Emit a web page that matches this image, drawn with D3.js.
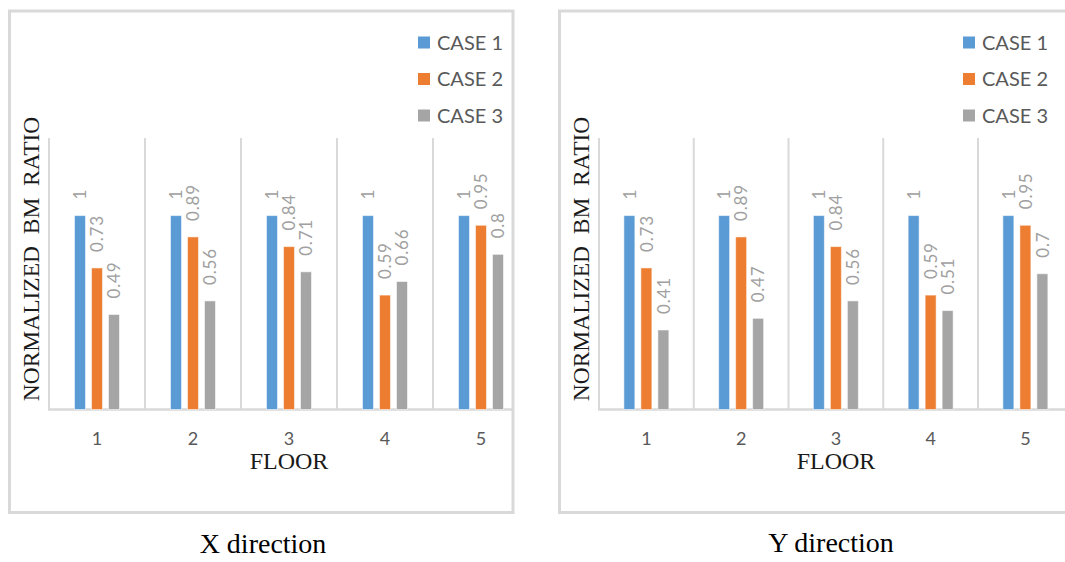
<!DOCTYPE html>
<html>
<head>
<meta charset="utf-8">
<script src="https://cdn.jsdelivr.net/npm/d3@7"></script>
<style>
  html, body { margin: 0; padding: 0; background: #ffffff; }
  svg { display: block; }
</style>
</head>
<body>
<div id="chart"></div>
<script>
// ---- data ----
const floors = ["1", "2", "3", "4", "5"];
const seriesNames = ["CASE 1", "CASE 2", "CASE 3"];
const xCase1 = [1, 1, 1, 1, 1];
const xCase2 = [0.73, 0.89, 0.84, 0.59, 0.95];
const xCase3 = [0.49, 0.56, 0.71, 0.66, 0.8];
const yCase1 = [1, 1, 1, 1, 1];
const yCase2 = [0.73, 0.89, 0.84, 0.59, 0.95];
const yCase3 = [0.41, 0.47, 0.56, 0.51, 0.7];
const captions = ["X direction", "Y direction"];
const xAxisTitle = "FLOOR";
const yAxisTitle = "NORMALIZED  BM  RATIO";
const yMax = 1.4;

const colors = ["#5b9bd5", "#ed7d31", "#a5a5a5"];

const W = 1065, H = 562;
const svg = d3.select("#chart").append("svg")
  .attr("width", W).attr("height", H);

const panels = [
  { series: [xCase1, xCase2, xCase3], caption: captions[0],
    frame: { x0: 9.5, y0: 11, x1: 513, y1: 512.5 },
    plotLeft: 49, band: 96, titleX: 289, yTitleX: 31, capX: 263, capY: 553,
    legendX: 418 },
  { series: [yCase1, yCase2, yCase3], caption: captions[1],
    frame: { x0: 559.5, y0: 11, x1: 1075, y1: 512.5 },
    plotLeft: 599, band: 94.75, titleX: 836, yTitleX: 581, capX: 831, capY: 552,
    legendX: 963 }
];

const plotTop = 138, plotBottom = 409.5;

panels.forEach((p, pi) => {
  const g = svg.append("g");
  const clipId = "clip" + pi;
  svg.append("defs").append("clipPath").attr("id", clipId)
    .append("rect")
    .attr("x", p.frame.x0).attr("y", p.frame.y0)
    .attr("width", p.frame.x1 - p.frame.x0).attr("height", p.frame.y1 - p.frame.y0);

  // frame
  g.append("rect")
    .attr("x", p.frame.x0).attr("y", p.frame.y0)
    .attr("width", p.frame.x1 - p.frame.x0).attr("height", p.frame.y1 - p.frame.y0)
    .attr("fill", "#ffffff").attr("stroke", "#d9d9d9").attr("stroke-width", 3);

  const plot = g.append("g").attr("clip-path", `url(#${clipId})`);

  const x0 = d3.scaleBand().domain(floors)
    .range([p.plotLeft, p.plotLeft + p.band * floors.length])
    .paddingInner(0).paddingOuter(0);
  const x1 = d3.scaleBand().domain(seriesNames).range([0, 51])
    .paddingInner(6 / 17).paddingOuter(3 / 17);
  const y = d3.scaleLinear().domain([0, yMax]).range([plotBottom, plotTop]);

  // category separators (vertical gridlines)
  const seps = floors.map(f => x0(f));
  plot.selectAll("line.sep").data(seps.concat([x0.range()[1]])).enter()
    .append("line")
    .attr("x1", d => d).attr("x2", d => d)
    .attr("y1", y(yMax)).attr("y2", y(0))
    .attr("stroke", "#d9d9d9").attr("stroke-width", 2);

  // baseline axis
  const xAxis = d3.axisBottom(x0).tickSize(0).tickPadding(0);
  const axG = plot.append("g").attr("transform", `translate(0,${y(0)})`).call(xAxis);
  axG.select(".domain").attr("stroke", "#d9d9d9").attr("stroke-width", 2.5)
    .attr("d", `M${x0.range()[0] - 1},0H${x0.range()[1]}`);
  axG.selectAll(".tick text")
    .attr("y", 35.5)
    .attr("dy", 0)
    .attr("font-family", "Lato, 'Open Sans', sans-serif")
    .attr("font-size", 18)
    .attr("fill", "#595959");

  // bars
  const data = [];
  floors.forEach((f, i) => {
    seriesNames.forEach((s, j) => {
      data.push({ floor: f, s, j, v: p.series[j][i] });
    });
  });
  const groupOffset = f => x0(f) + x0.bandwidth() / 2 - 25.5;

  plot.selectAll("rect.bar").data(data).enter().append("rect")
    .attr("class", "bar")
    .attr("x", d => groupOffset(d.floor) + x1(d.s))
    .attr("y", d => y(d.v))
    .attr("width", x1.bandwidth())
    .attr("height", d => y(0) - y(d.v))
    .attr("fill", d => colors[d.j])
    .attr("stroke", "rgba(255,255,255,0.55)")
    .attr("stroke-width", 1);

  // data labels (rotated)
  plot.selectAll("text.lbl").data(data).enter().append("text")
    .attr("class", "lbl")
    .attr("transform", d => {
      const cx = groupOffset(d.floor) + x1(d.s) + x1.bandwidth() / 2;
      const cy = y(d.v) - 16;
      return `translate(${cx},${cy}) rotate(-90)`;
    })
    .attr("text-anchor", "start")
    .attr("dy", "0.36em")
    .attr("font-family", "Lato, 'Open Sans', sans-serif")
    .attr("font-size", 17)
    .attr("letter-spacing", 0.8)
    .attr("fill", "#a0a0a0")
    .text(d => String(d.v));

  // legend
  const lg = g.append("g");
  seriesNames.forEach((s, j) => {
    const cy = 42.5 + j * 36.5;
    lg.append("rect")
      .attr("x", p.legendX).attr("y", cy - 6)
      .attr("width", 12).attr("height", 12)
      .attr("fill", colors[j]);
    lg.append("text")
      .attr("x", p.legendX + 19).attr("y", cy + 7)
      .attr("font-family", "Lato, 'Open Sans', sans-serif")
      .attr("font-size", 20)
      .attr("fill", "#595959")
      .text(s);
  });

  // axis titles
  g.append("text")
    .attr("x", p.titleX).attr("y", 469)
    .attr("text-anchor", "middle")
    .attr("font-family", "'Liberation Serif', 'Times New Roman', serif")
    .attr("font-size", 24)
    .attr("fill", "#1a1a1a")
    .text(xAxisTitle);

  g.append("text")
    .attr("transform", `translate(${p.yTitleX + 7.5},259) rotate(-90)`)
    .attr("text-anchor", "middle")
    .attr("font-family", "'Liberation Serif', 'Times New Roman', serif")
    .attr("font-size", 23.5)
    .attr("fill", "#1a1a1a")
    .style("white-space", "pre")
    .text(yAxisTitle);

  // caption
  svg.append("text")
    .attr("x", p.capX).attr("y", p.capY)
    .attr("text-anchor", "middle")
    .attr("font-family", "'Liberation Serif', 'Times New Roman', serif")
    .attr("font-size", 28)
    .attr("fill", "#000000")
    .text(p.caption);
});
</script>
</body>
</html>
